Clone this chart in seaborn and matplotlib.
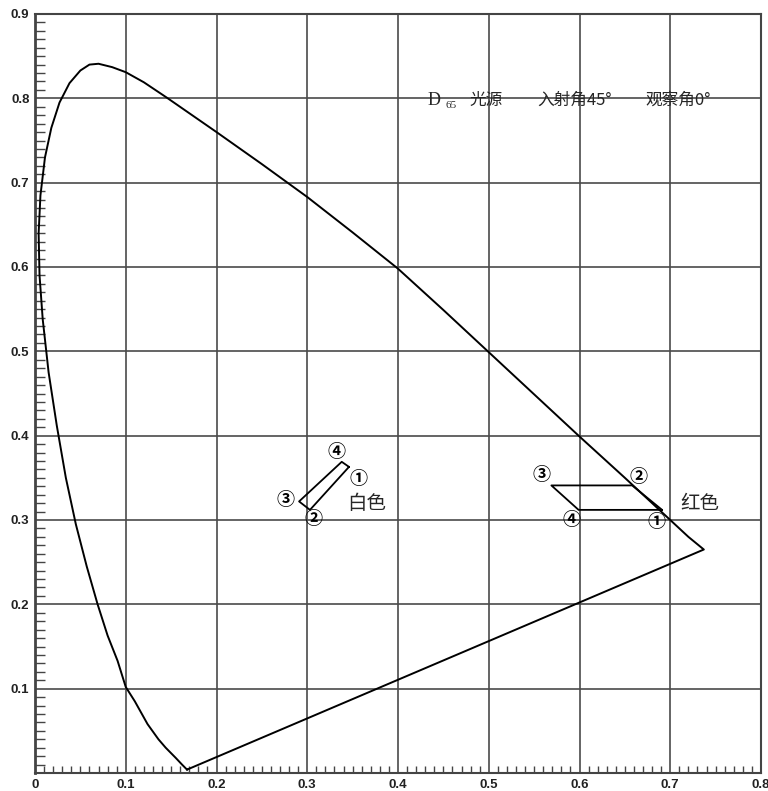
import matplotlib
matplotlib.use('Agg')
import matplotlib.pyplot as plt
from matplotlib.ticker import MultipleLocator, FuncFormatter
import seaborn as sns
import pandas as pd

# CIE 1931 色度图 光谱轨迹 (读自图像)
locus_x = [0.1675, 0.162, 0.155, 0.144, 0.136, 0.124, 0.110, 0.100, 0.091,
           0.080, 0.069, 0.057, 0.045, 0.034, 0.024, 0.015, 0.0085, 0.005,
           0.004, 0.006, 0.011, 0.018, 0.027, 0.038, 0.050, 0.060, 0.070,
           0.085, 0.100, 0.120, 0.145, 0.200, 0.250, 0.300, 0.350, 0.400,
           0.450, 0.500, 0.550, 0.600, 0.650, 0.690, 0.720, 0.737, 0.1675]
locus_y = [0.004, 0.010, 0.018, 0.030, 0.040, 0.058, 0.085, 0.102, 0.133,
           0.163, 0.200, 0.245, 0.295, 0.350, 0.412, 0.475, 0.538, 0.590,
           0.640, 0.685, 0.730, 0.765, 0.795, 0.818, 0.833, 0.840, 0.841,
           0.837, 0.831, 0.819, 0.801, 0.760, 0.722, 0.683, 0.641, 0.598,
           0.549, 0.499, 0.449, 0.399, 0.350, 0.310, 0.280, 0.265, 0.004]

# 样品色度点 ①②③④
point_labels = ['①', '②', '③', '④']
white_x = [0.346, 0.303, 0.291, 0.338]
white_y = [0.363, 0.312, 0.322, 0.369]
red_x = [0.691, 0.658, 0.569, 0.599]
red_y = [0.312, 0.341, 0.341, 0.312]

# 标号位置
white_lab_x = [0.3563, 0.3067, 0.2755, 0.3317]
white_lab_y = [0.3496, 0.3021, 0.3238, 0.3811]
red_lab_x = [0.6851, 0.6648, 0.5584, 0.5914]
red_lab_y = [0.2981, 0.3515, 0.3535, 0.3001]

sns.set_style('white')
plt.rcParams['font.family'] = ['Noto Sans CJK SC', 'DejaVu Sans']

fig = plt.figure(figsize=(7.68, 7.91), dpi=100)
ax = fig.add_axes([35 / 768, 18 / 791, 726 / 768, 759 / 791])

locus = pd.DataFrame({'x': locus_x, 'y': locus_y})
sns.lineplot(data=locus, x='x', y='y', sort=False, estimator=None,
             color='black', lw=1.4, ax=ax)

for xs, ys in [(white_x, white_y), (red_x, red_y)]:
    quad = pd.DataFrame({'x': xs + xs[:1], 'y': ys + ys[:1]})
    sns.lineplot(data=quad, x='x', y='y', sort=False, estimator=None,
                 color='black', lw=1.3, ax=ax)

for lx, ly in [(white_lab_x, white_lab_y), (red_lab_x, red_lab_y)]:
    for lab, px, py in zip(point_labels, lx, ly):
        ax.text(px, py, lab, fontsize=13, fontweight='bold', ha='center',
                va='center', color='black')

ax.text(0.366, 0.320, '白色', fontsize=14, ha='center', va='center')
ax.text(0.733, 0.320, '红色', fontsize=14, ha='center', va='center')

# 标题注释
ax.text(0.433, 0.798, 'D', fontsize=13, ha='left', va='center',
        family=['Liberation Serif', 'DejaVu Serif'])
ax.text(0.452, 0.792, '65', fontsize=8, ha='left', va='center',
        family=['Liberation Serif', 'DejaVu Serif'])
ax.text(0.479, 0.798, '光源', fontsize=12, fontweight='medium', ha='left', va='center')
ax.text(0.554, 0.798, '入射角45°', fontsize=12, fontweight='medium', ha='left', va='center')
ax.text(0.673, 0.798, '观察角0°', fontsize=12, fontweight='medium', ha='left', va='center')

ax.set_xlim(0, 0.8)
ax.set_ylim(0, 0.9)
ax.set_xlabel('')
ax.set_ylabel('')

ax.xaxis.set_major_locator(MultipleLocator(0.1))
ax.yaxis.set_major_locator(MultipleLocator(0.1))
ax.xaxis.set_minor_locator(MultipleLocator(0.01))
ax.yaxis.set_minor_locator(MultipleLocator(0.01))
ax.xaxis.set_major_formatter(FuncFormatter(lambda v, p: f'{v:g}'))
ax.yaxis.set_major_formatter(FuncFormatter(lambda v, p: '' if abs(v) < 1e-9 else f'{v:g}'))

ax.grid(True, which='major', color='#4a4a4a', lw=1.2)
ax.tick_params(which='both', direction='in', colors='#444444',
               labelcolor='#222222', bottom=True, left=True)
ax.tick_params(which='major', length=0, pad=4)
ax.tick_params(axis='x', which='minor', length=5, width=1)
ax.tick_params(axis='y', which='minor', length=7, width=1)
for lab in ax.get_xticklabels() + ax.get_yticklabels():
    lab.set_fontweight('bold')
    lab.set_fontsize(9.5)
    lab.set_family(['Liberation Sans', 'DejaVu Sans'])

for side in ['top', 'right', 'bottom', 'left']:
    ax.spines[side].set_color('#444444')
    ax.spines[side].set_linewidth(1.5)
ax.spines['left'].set_linewidth(2)

fig.savefig('out.png', dpi=100)
